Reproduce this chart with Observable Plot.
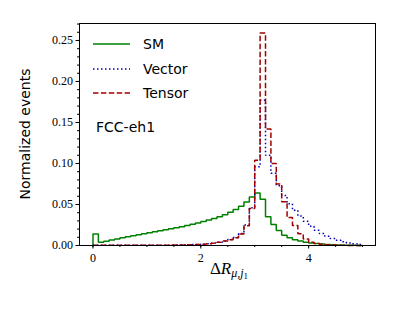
<!DOCTYPE html>
<html><head><meta charset="utf-8">
<script src="https://cdn.jsdelivr.net/npm/d3@7"></script>
<script src="https://cdn.jsdelivr.net/npm/@observablehq/plot@0.6"></script>
<style>body{margin:0;background:#fff} svg{display:block}</style>
</head><body><div id="chart"></div>
<script>
// Histogram bins: 50 bins of width 0.1 starting at 0
const binStart = 0;
const binWidth = 0.1;

const smValues = [
  0.0140, 0.0040, 0.0053, 0.0066, 0.0080, 0.0093, 0.0106, 0.0119, 0.0131, 0.0143,
  0.0155, 0.0167, 0.0179, 0.0191, 0.0203, 0.0216, 0.0230, 0.0244, 0.0259, 0.0275,
  0.0292, 0.0310, 0.0330, 0.0352, 0.0376, 0.0405, 0.0440, 0.0480, 0.0530, 0.0590,
  0.0640, 0.0565, 0.0350, 0.0255, 0.0182, 0.0125, 0.0094, 0.0070, 0.0054, 0.0041,
  0.0031, 0.0023, 0.0017, 0.0012, 0.0009, 0.0006, 0.0004, 0.0003, 0.0002, 0.0001
];
const vectorValues = [
  0.0002, 0.0002, 0.0002, 0.0002, 0.0002, 0.0003, 0.0003, 0.0003, 0.0003, 0.0003,
  0.0004, 0.0004, 0.0004, 0.0004, 0.0004, 0.0006, 0.0007, 0.0009, 0.0011, 0.0013,
  0.0016, 0.0021, 0.0029, 0.0040, 0.0055, 0.0072, 0.0098, 0.0145, 0.0250, 0.0460,
  0.0960, 0.1770, 0.1100, 0.0880, 0.0730, 0.0610, 0.0510, 0.0430, 0.0360, 0.0295,
  0.0235, 0.0185, 0.0145, 0.0112, 0.0085, 0.0063, 0.0046, 0.0032, 0.0021, 0.0011
];
const tensorValues = [
  0.0002, 0.0002, 0.0002, 0.0002, 0.0002, 0.0004, 0.0004, 0.0004, 0.0004, 0.0004,
  0.0004, 0.0004, 0.0004, 0.0004, 0.0005, 0.0006, 0.0007, 0.0008, 0.0010, 0.0012,
  0.0015, 0.0020, 0.0028, 0.0040, 0.0055, 0.0070, 0.0095, 0.0140, 0.0240, 0.0450,
  0.1040, 0.2590, 0.1420, 0.1000, 0.0750, 0.0535, 0.0340, 0.0244, 0.0142, 0.0080,
  0.0040, 0.0025, 0.0015, 0.0010, 0.0006, 0.0004, 0.0002, 0.0001, 0.0001, 0.0000
];

const seriesNames = ["SM", "Vector", "Tensor"];
const seriesColors = ["#008000", "#0000b4", "#a00000"];
const seriesDash = [null, "1.5,2.5", "5.5,2.4"];
const annotation = "FCC-eh1";
const yLabel = "Normalized events";
const yMajorTicks = [0, 0.05, 0.10, 0.15, 0.20, 0.25];
const xMajorTicks = [0, 2, 4];
const xMinorTicks = [0, 0.5, 1, 1.5, 2, 2.5, 3, 3.5, 4, 4.5, 5];

const serif = "'Liberation Serif', 'DejaVu Serif', serif";
const sans = "'DejaVu Sans', sans-serif";

function stepPoints(values) {
  const pts = [{x: binStart, y: 0}];
  values.forEach((v, i) => pts.push({x: binStart + i * binWidth, y: v}));
  const end = binStart + values.length * binWidth;
  pts.push({x: end, y: values[values.length - 1]});
  pts.push({x: end, y: 0});
  return pts;
}

const allSeries = [smValues, vectorValues, tensorValues];

const plot = Plot.plot({
  width: 399,
  height: 312,
  marginLeft: 79,
  marginRight: 24,
  marginTop: 23,
  marginBottom: 67,
  style: {fontFamily: serif, fontSize: "12px", background: "#fff", color: "#000"},
  x: {domain: [-0.25, 5.24]},
  y: {domain: [0, 0.2707]},
  marks: [
    ...allSeries.map((vals, k) => Plot.line(stepPoints(vals), {
      x: "x", y: "y", curve: "step-after",
      stroke: seriesColors[k], strokeWidth: 1.5,
      strokeDasharray: seriesDash[k] || undefined,
      strokeLinejoin: "miter", strokeLinecap: "butt"
    })),
    Plot.axisY(d3.range(0, 0.2705, 0.01), {tickSize: 2, text: null, label: null, stroke: "#000"}),
    Plot.axisY(yMajorTicks, {tickSize: 3.5, tickPadding: 3, tickFormat: d3.format(".2f"), label: null,
      stroke: "#000", fill: "#000"}),
    Plot.axisX(xMinorTicks, {tickSize: 2, text: null, label: null, stroke: "#000"}),
    Plot.axisX(xMajorTicks, {tickSize: 3.5, tickPadding: 4, tickFormat: d3.format("d"), label: null,
      stroke: "#000", fill: "#000"}),
    Plot.frame({stroke: "#000", strokeWidth: 1})
  ]
});

document.getElementById("chart").appendChild(plot);

const svg = d3.select(plot);
// force serif tick labels
svg.selectAll('g[aria-label$="tick label"]').attr("font-family", serif).attr("font-size", 12);
svg.selectAll('g[aria-label$="tick label"] text').attr("font-family", serif).attr("font-size", 12);

// Legend
const legendY = [44, 69, 93];
seriesNames.forEach((name, k) => {
  svg.append("line")
    .attr("x1", 93).attr("x2", 130)
    .attr("y1", legendY[k]).attr("y2", legendY[k])
    .attr("stroke", seriesColors[k]).attr("stroke-width", 1.5)
    .attr("stroke-dasharray", seriesDash[k]);
  svg.append("text")
    .attr("x", 143).attr("y", legendY[k])
    .attr("text-anchor", "start")
    .attr("dominant-baseline", "central")
    .attr("font-family", sans).attr("font-size", 14)
    .attr("fill", "#000")
    .text(name);
});
svg.append("text")
  .attr("x", 96).attr("y", 127)
  .attr("text-anchor", "start")
  .attr("dominant-baseline", "central")
  .attr("font-family", sans).attr("font-size", 14)
  .attr("fill", "#000")
  .text(annotation);
// Y label
svg.append("text")
  .attr("transform", "translate(25,134) rotate(-90)")
  .attr("text-anchor", "middle")
  .attr("dominant-baseline", "central")
  .attr("font-family", sans).attr("font-size", 14)
  .attr("fill", "#000")
  .text(yLabel);
// X label: ΔR_{μ,j1}
const xl = svg.append("text")
  .attr("x", 229).attr("y", 274)
  .attr("text-anchor", "middle")
  .attr("font-family", serif).attr("font-size", 17)
  .attr("fill", "#000");
xl.append("tspan").text("Δ");
xl.append("tspan").attr("font-style", "italic").text("R");
xl.append("tspan").attr("dy", 3).attr("font-size", 12).attr("font-style", "italic").text("μ,j");
xl.append("tspan").attr("dy", 2).attr("font-size", 9).text("1");
</script>
</body></html>
